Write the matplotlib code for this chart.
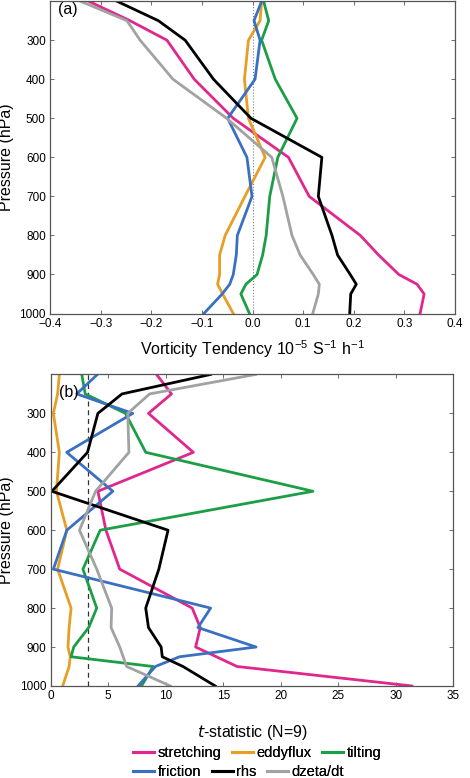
import matplotlib
matplotlib.use('Agg')
import matplotlib.pyplot as plt
from matplotlib.lines import Line2D

plt.rcParams['font.family'] = ['Liberation Sans', 'DejaVu Sans']
plt.rcParams['axes.unicode_minus'] = True

# pressure levels (hPa)
levels = [200, 250, 300, 400, 500, 600, 700, 800, 850, 900, 925, 950, 1000]

# (a) vorticity tendency, 10^-5 s^-1 h^-1
stretching_a = [-0.324, -0.242, -0.169, -0.115, -0.038, 0.071, 0.112, 0.213, 0.249, 0.289, 0.325, 0.339, 0.331]
eddyflux_a = [0.018, 0.015, -0.008, -0.016, -0.008, 0.025, -0.015, -0.054, -0.065, -0.065, -0.069, -0.059, -0.038]
tilting_a = [0.022, 0.032, 0.018, 0.045, 0.088, 0.050, 0.034, 0.027, 0.020, 0.009, -0.013, -0.023, -0.006]
friction_a = [0.018, 0.003, 0.015, 0.005, -0.049, -0.011, -0.001, -0.030, -0.032, -0.038, -0.045, -0.060, -0.096]
rhs_a = [-0.268, -0.186, -0.133, -0.077, -0.003, 0.137, 0.130, 0.157, 0.168, 0.193, 0.205, 0.194, 0.192]
dzeta_a = [-0.340, -0.248, -0.222, -0.157, -0.051, 0.038, 0.060, 0.078, 0.094, 0.120, 0.132, 0.130, 0.119]

# (b) t-statistic
stretching_b = [9.2, 10.5, 8.5, 12.4, 4.1, 4.8, 6.0, 12.3, 13.0, 12.6, 14.4, 16.2, 31.4]
eddyflux_b = [0.75, 0.6, 0.23, 0.75, 0.5, 1.4, 0.6, 1.77, 1.6, 1.5, 1.7, 1.6, 1.04]
tilting_b = [2.7, 3.0, 6.5, 8.26, 22.8, 4.3, 2.8, 4.0, 3.3, 2.0, 1.77, 8.9, 7.9]
friction_b = [4.06, 2.26, 7.13, 1.39, 5.4, 1.4, 0.23, 13.9, 12.8, 17.85, 11.2, 9.1, 7.6]
rhs_b = [13.9, 6.2, 4.1, 3.2, 0.1, 10.2, 9.4, 8.26, 8.5, 9.6, 9.7, 11.5, 14.3]
dzeta_b = [17.8, 8.6, 6.7, 6.8, 3.9, 2.5, 4.0, 5.3, 5.25, 6.0, 6.3, 6.6, 10.4]

t_crit = 3.25

names = ['stretching', 'eddyflux', 'tilting', 'friction', 'rhs', 'dzeta/dt']
colors = ['#e0278d', '#e79e25', '#1b9e45', '#3a70c2', 'black', '#a2a2a2']

fig = plt.figure(figsize=(4.70, 7.78), dpi=100)
ax1 = fig.add_axes([0.1064, 0.597, 0.8617, 0.4015])
ax2 = fig.add_axes([0.1079, 0.1183, 0.8566, 0.4004])

series_a = [stretching_a, eddyflux_a, tilting_a, friction_a, rhs_a, dzeta_a]
series_b = [stretching_b, eddyflux_b, tilting_b, friction_b, rhs_b, dzeta_b]

ax1.axvline(0, color='gray', ls=':', lw=0.8)
for vals, c in zip(series_a, colors):
    ax1.plot(vals, levels, color=c, lw=2.0)
ax2.axvline(t_crit, color='#333333', ls='--', lw=0.9, dashes=(4, 3))
for vals, c in zip(series_b, colors):
    ax2.plot(vals, levels, color=c, lw=2.0)

for ax in (ax1, ax2):
    ax.set_ylim(1000, 200)
    ax.set_yticks(range(300, 1001, 100))
    ax.tick_params(direction='in', top=True, right=True, labelsize=8.5,
                   length=3, width=0.6, color='#555555', pad=3)
    for s in ax.spines.values():
        s.set_color('#555555')
        s.set_linewidth(0.9)
    ax.set_ylabel('Pressure (hPa)', fontsize=11.5, labelpad=4)

ax1.set_xlim(-0.4, 0.4)
ax1.set_xticks([-0.4, -0.3, -0.2, -0.1, 0.0, 0.1, 0.2, 0.3, 0.4])
ax1.set_xlabel('Vorticity Tendency $\\mathregular{10^{-5}\\ S^{-1}\\ h^{-1}}$', fontsize=11.5, labelpad=6)
ax2.set_xlim(0, 35)
ax2.set_xticks(range(0, 36, 5))
ax2.set_xlabel('$\\it{t}$-statistic (N=9)', fontsize=11.5, labelpad=15)

ax1.text(0.02, 0.997, '(a)', transform=ax1.transAxes, fontsize=11.5, va='top')
ax2.text(0.02, 0.965, '(b)', transform=ax2.transAxes, fontsize=11.5, va='top')

# two legend rows, flowing like the original
rows = [(0, 3, 0.0325), (3, 6, 0.0075)]
for start, stop, y in rows:
    handles = [Line2D([], [], color=colors[i], lw=2.2) for i in range(start, stop)]
    leg = fig.legend(handles, names[start:stop], loc='center left', ncol=3,
                     bbox_to_anchor=(0.283, y), frameon=False, fontsize=10.5,
                     handlelength=1.45, handletextpad=0.25, columnspacing=0.7,
                     borderpad=0, borderaxespad=0)
    fig.add_artist(leg)

fig.savefig('out.png', dpi=100)
